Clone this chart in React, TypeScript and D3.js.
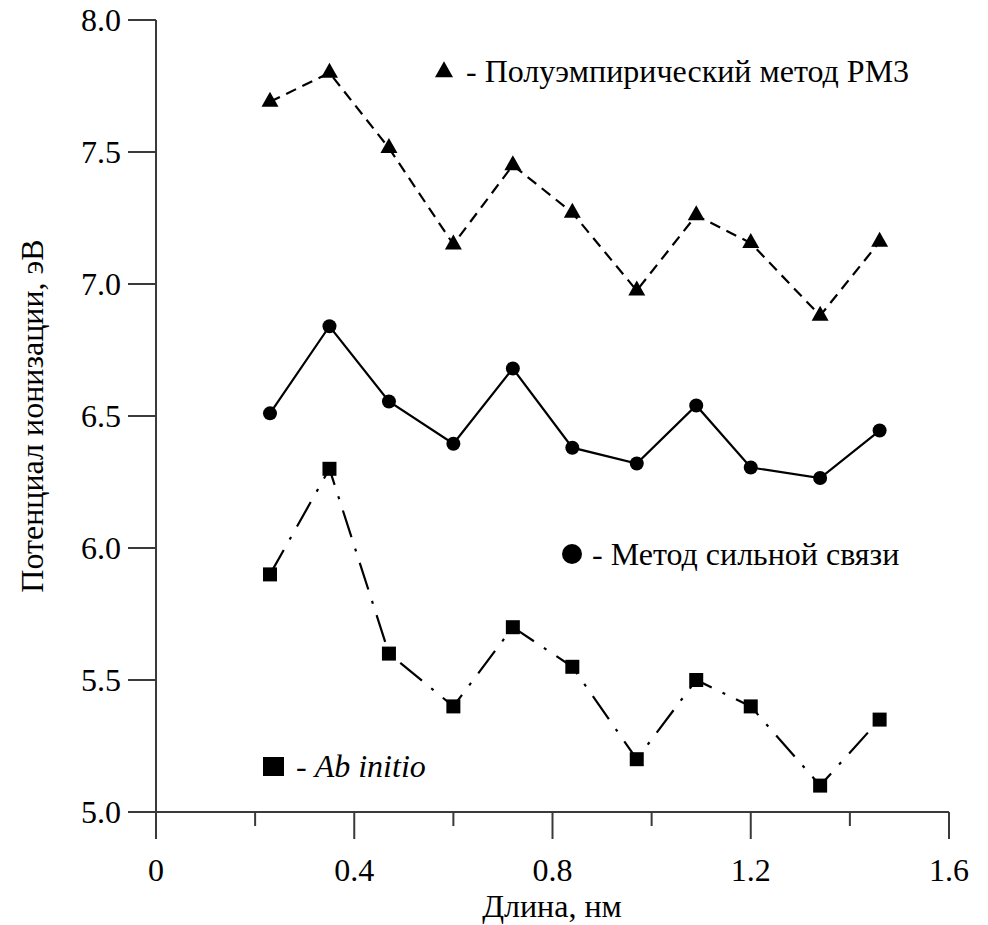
import React from "react";
import * as d3 from "d3";

const lengths = [0.23, 0.35, 0.47, 0.6, 0.72, 0.84, 0.97, 1.09, 1.2, 1.34, 1.46];
const pm3 = [7.69, 7.8, 7.515, 7.15, 7.45, 7.27, 6.975, 7.26, 7.155, 6.88, 7.16];
const tightBinding = [6.51, 6.84, 6.555, 6.395, 6.68, 6.38, 6.32, 6.54, 6.305, 6.265, 6.445];
const abInitio = [5.9, 6.3, 5.6, 5.4, 5.7, 5.55, 5.2, 5.5, 5.4, 5.1, 5.35];
const xMajorTicks = [0, 0.4, 0.8, 1.2, 1.6];
const xMinorTicks = [0.2, 0.6, 1.0, 1.4];
const xTickLabels = ["0", "0.4", "0.8", "1.2", "1.6"];
const yTicks = [5.0, 5.5, 6.0, 6.5, 7.0, 7.5, 8.0];
const yTickLabels = ["5.0", "5.5", "6.0", "6.5", "7.0", "7.5", "8.0"];

const FONT = "'Liberation Serif', 'Times New Roman', Times, 'DejaVu Serif', serif";

export default function App() {
  const x = d3.scaleLinear().domain([0, 1.6]).range([156, 949]);
  const y = d3.scaleLinear().domain([5, 8]).range([812, 20]);
  const line = d3
    .line<number>()
    .x((_, i) => x(lengths[i]))
    .y((v) => y(v));
  const axisColor = "#3a3a3a";
  const tri = (cx: number, cy: number, w: number, h: number) =>
    `M${cx - w / 2},${cy + h / 3} L${cx + w / 2},${cy + h / 3} L${cx},${cy - (2 * h) / 3} Z`;
  const ts: React.CSSProperties = { fontFamily: FONT, fontSize: 32 };

  return (
    <svg
      width={988}
      height={925}
      style={{ display: "block", position: "absolute", left: 0, top: 0 }}
    >
      <rect width={988} height={925} fill="#fff" />
      {/* axes */}
      <line x1={x(0)} x2={x(0)} y1={y(8)} y2={y(5) + 27} stroke={axisColor} strokeWidth={2} />
      <line x1={x(0) - 28} x2={x(1.6)} y1={y(5)} y2={y(5)} stroke={axisColor} strokeWidth={2} />
      {yTicks.map((t, i) => (
        <g key={"y" + i}>
          <line x1={x(0) - 28} x2={x(0)} y1={y(t)} y2={y(t)} stroke={axisColor} strokeWidth={2} />
          <text x={121} y={y(t)} dy="0.35em" textAnchor="end" style={ts}>
            {yTickLabels[i]}
          </text>
        </g>
      ))}
      {xMajorTicks.map((t, i) => (
        <g key={"x" + i}>
          <line x1={x(t)} x2={x(t)} y1={y(5)} y2={y(5) + 27} stroke={axisColor} strokeWidth={2} />
          <text x={x(t)} y={881} textAnchor="middle" style={ts}>
            {xTickLabels[i]}
          </text>
        </g>
      ))}
      {xMinorTicks.map((t, i) => (
        <line key={"xm" + i} x1={x(t)} x2={x(t)} y1={y(5)} y2={y(5) + 14} stroke={axisColor} strokeWidth={2} />
      ))}
      <text x={552} y={917} textAnchor="middle" style={ts}>
        Длина, нм
      </text>
      <text transform={`translate(43,${y(6.5)}) rotate(-90)`} textAnchor="middle" style={ts}>
        Потенциал ионизации, эВ
      </text>

      {/* series lines */}
      <path d={line(pm3) || ""} fill="none" stroke="#000" strokeWidth={2.2} strokeDasharray="11,7" />
      <path d={line(tightBinding) || ""} fill="none" stroke="#000" strokeWidth={2.2} />
      <path d={line(abInitio) || ""} fill="none" stroke="#000" strokeWidth={2.2} strokeDasharray="28,12,3,12" />

      {/* markers */}
      {pm3.map((v, i) => (
        <path key={"t" + i} d={tri(x(lengths[i]), y(v), 17, 15)} fill="#000" />
      ))}
      {tightBinding.map((v, i) => (
        <circle key={"c" + i} cx={x(lengths[i])} cy={y(v)} r={7} fill="#000" />
      ))}
      {abInitio.map((v, i) => (
        <rect key={"s" + i} x={x(lengths[i]) - 7} y={y(v) - 7} width={14} height={14} fill="#000" />
      ))}

      {/* legends */}
      <path d={tri(444, 72, 18, 16)} fill="#000" />
      <text x={466} y={82} style={ts}>
        - Полуэмпирический метод PM3
      </text>
      <circle cx={572} cy={554} r={10} fill="#000" />
      <text x={592} y={565} style={ts}>
        - Метод сильной связи
      </text>
      <rect x={263} y={757} width={21} height={19} fill="#000" />
      <text x={296} y={777} style={ts}>
        -{" "}<tspan fontStyle="italic">Ab initio</tspan>
      </text>
    </svg>
  );
}
